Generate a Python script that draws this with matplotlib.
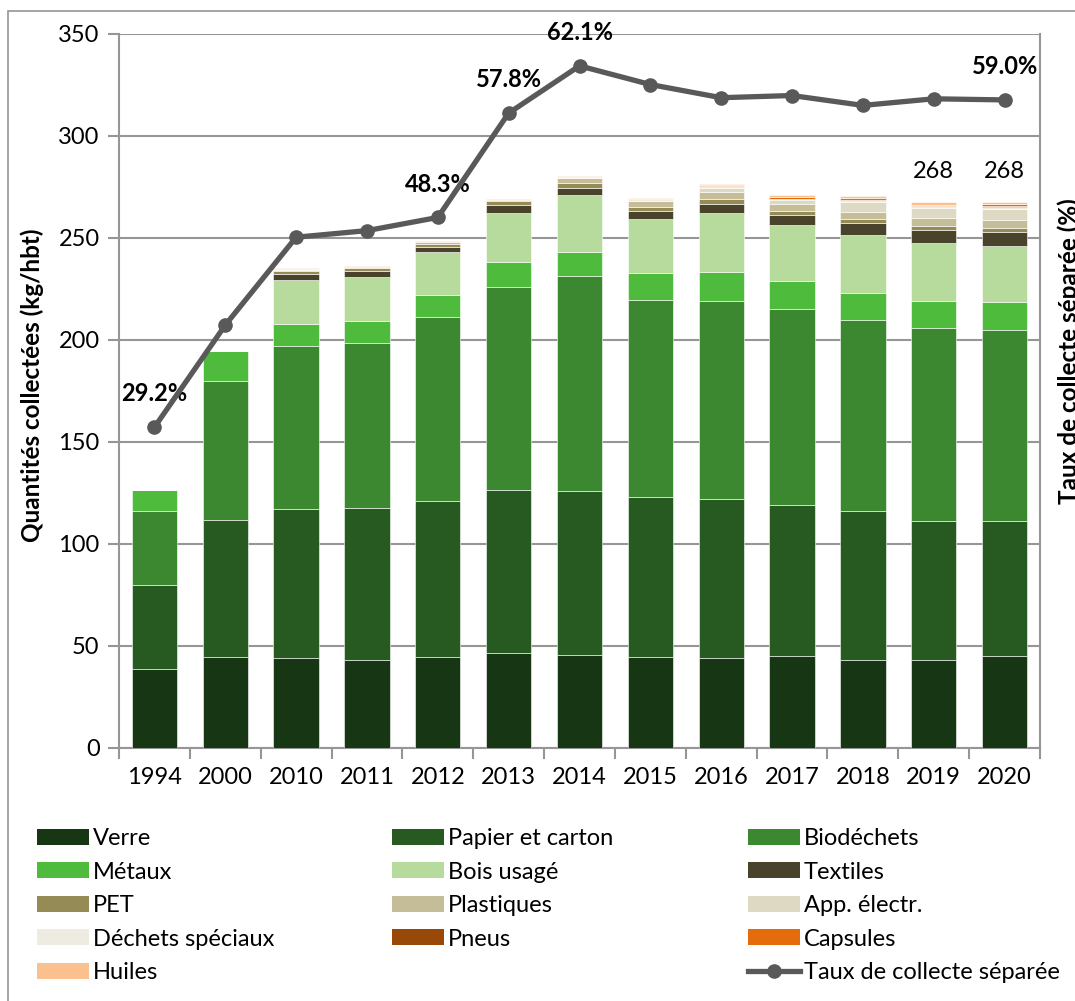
import matplotlib
matplotlib.use("Agg")
import matplotlib.pyplot as plt
from matplotlib.patches import Rectangle, Patch
from matplotlib.lines import Line2D
import numpy as np

plt.rcParams['font.family'] = ['Lato', 'DejaVu Sans']

years = ["1994", "2000", "2010", "2011", "2012", "2013", "2014",
         "2015", "2016", "2017", "2018", "2019", "2020"]

verre     = [38.6, 44.5, 44.0, 43.0, 44.8, 46.4, 45.4, 44.5, 44.0, 45.0, 43.0, 43.0, 45.0]
papier    = [41.4, 67.5, 73.0, 74.5, 76.2, 80.1, 80.6, 78.5, 78.0, 74.0, 73.0, 68.5, 66.5]
biodech   = [36.0, 68.0, 80.2, 81.2, 90.4, 99.5, 105.4, 96.8, 97.3, 96.0, 94.0, 94.5, 93.5]
metaux    = [10.5, 14.4, 10.8, 10.6, 10.6, 12.0, 11.9, 12.9, 14.0, 13.8, 13.2, 13.3, 13.6]
bois      = [0, 0, 21.6, 21.7, 21.0, 24.4, 27.6, 26.5, 28.8, 27.4, 28.1, 28.4, 27.6]
textiles  = [0, 0, 2.8, 2.8, 2.6, 3.9, 3.8, 4.0, 4.7, 5.1, 5.9, 6.2, 6.9]
pet       = [0, 0, 1.6, 1.5, 1.6, 1.8, 2.1, 2.2, 2.1, 1.9, 2.1, 2.0, 2.0]
plastique = [0, 0, 0.5, 0.5, 0.6, 0.5, 2.4, 2.7, 3.6, 3.5, 3.6, 4.1, 3.7]
app_elec  = [0, 0, 0, 0, 0, 0, 0, 0, 2.2, 1.9, 4.9, 4.7, 5.3]
dech_spec = [0, 0, 0.3, 0.2, 0.3, 0.2, 0.8, 1.1, 0.6, 0.7, 0.8, 0.8, 1.3]
pneus     = [0, 0, 0, 0, 0, 0, 0, 0, 0, 0, 0.1, 0.1, 0.1]
capsules  = [0, 0, 0, 0, 0, 0, 0, 0, 0.5, 0.7, 0.8, 0.8, 1.2]
huiles    = [0, 0, 0.3, 0.3, 0.4, 0.3, 0.4, 0.4, 0.7, 1.1, 1.0, 1.1, 0.9]

taux = [29.2, 38.5, 46.5, 47.1, 48.3, 57.8, 62.1, 60.4, 59.2, 59.4, 58.5, 59.1, 59.0]

series = [
    ("Verre", verre, "#173613"),
    ("Papier et carton", papier, "#265a20"),
    ("Biodéchets", biodech, "#3c8830"),
    ("Métaux", metaux, "#4fbb3d"),
    ("Bois usagé", bois, "#b7db9c"),
    ("Textiles", textiles, "#4a432c"),
    ("PET", pet, "#948b56"),
    ("Plastiques", plastique, "#c4bd97"),
    ("App. électr.", app_elec, "#ddd9c3"),
    ("Déchets spéciaux", dech_spec, "#eeece1"),
    ("Pneus", pneus, "#984807"),
    ("Capsules", capsules, "#e46c0a"),
    ("Huiles", huiles, "#fac090"),
]

total_labels = {11: "268", 12: "268"}
pct_labels = [0, 4, 5, 6, 12]

grey = "#969696"
fs = 17

fig = plt.figure(figsize=(10.75, 10.01), dpi=100)
ax = fig.add_axes([119 / 1075, 1 - 748 / 1001, (1040 - 119) / 1075, (748 - 34) / 1001])

x = np.arange(len(years))
bottom = np.zeros(len(years))
handles = {}
for name, vals, col in series:
    vals = np.array(vals)
    ax.bar(x, vals, 0.64, bottom=bottom, color=col, edgecolor="white",
           linewidth=0.4, zorder=3)
    handles[name] = Patch(facecolor=col, edgecolor="none")
    bottom += vals

ax.set_ylim(0, 350)
ax.set_xlim(-0.5, len(years) - 0.5)
ax.set_yticks(range(0, 351, 50))
ax.yaxis.grid(True, color=grey, linewidth=1.5, zorder=0)
ax.set_axisbelow(True)
ax.set_xticks(x)
ax.set_xticklabels(years)
ax.set_xticks(np.arange(-0.5, len(years), 1), minor=True)
ax.tick_params(axis="x", which="major", length=0, pad=14, labelsize=fs)
ax.tick_params(axis="x", which="minor", length=8, width=1.5, color=grey)
ax.tick_params(axis="y", length=8, width=1.5, color=grey, labelsize=fs, pad=6)
for s in ["left", "bottom", "right"]:
    ax.spines[s].set_color(grey)
    ax.spines[s].set_linewidth(1.5)
ax.spines["top"].set_visible(False)

for i, lab in total_labels.items():
    ax.text(i, bottom[i] + 15, lab, ha="center", va="center", fontsize=fs)

ax2 = ax.twinx()
ax2.set_ylim(0, 65)
ax2.set_yticks([])
for s in ["left", "bottom", "right", "top"]:
    ax2.spines[s].set_visible(False)
line, = ax2.plot(x, taux, color="#595959", linewidth=3.8, marker="o",
                 markersize=9.5, zorder=5)
for i in pct_labels:
    ax2.annotate(f"{taux[i]:.1f}%", (x[i], taux[i]), xytext=(0, 24),
                 textcoords="offset points", ha="center", va="center",
                 fontsize=fs, fontweight="bold", annotation_clip=False)

fig.text(32 / 1075, 1 - 385 / 1001, "Quantités collectées (kg/hbt)", rotation=90,
         ha="center", va="center", fontsize=17.5, fontweight="bold")
fig.text(1069 / 1075, 1 - 351 / 1001, "Taux de collecte séparée (%)", rotation=90,
         ha="center", va="center", fontsize=17.5, fontweight="bold")

blank = Patch(facecolor="none", edgecolor="none")
line_h = Line2D([], [], color="#595959", linewidth=3.8, marker="o", markersize=9.5)
cols = [
    (["Verre", "Métaux", "PET", "Déchets spéciaux", "Huiles"], 37),
    (["Papier et carton", "Bois usagé", "Plastiques", "Pneus", None], 392),
    (["Biodéchets", "Textiles", "App. électr.", "Capsules", "Taux de collecte séparée"], 748),
]
for names, px in cols:
    hs, ls = [], []
    for n in names:
        if n is None:
            hs.append(blank); ls.append("")
        elif n in handles:
            hs.append(handles[n]); ls.append(n)
        else:
            hs.append(line_h); ls.append(n)
    fig.legend(hs, ls, loc="upper left", bbox_to_anchor=(px / 1075, 1 - 828 / 1001),
               frameon=False, fontsize=fs, handlelength=2.2, handleheight=0.64,
               handletextpad=0.17, labelspacing=0.53, borderpad=0, borderaxespad=0)

fig.patches.append(Rectangle((7.5 / 1075, -0.1), 1.2, 1.1 - 11 / 1001,
                             transform=fig.transFigure, fill=False,
                             edgecolor=grey, linewidth=1.2))

fig.savefig("out.png", dpi=100)
